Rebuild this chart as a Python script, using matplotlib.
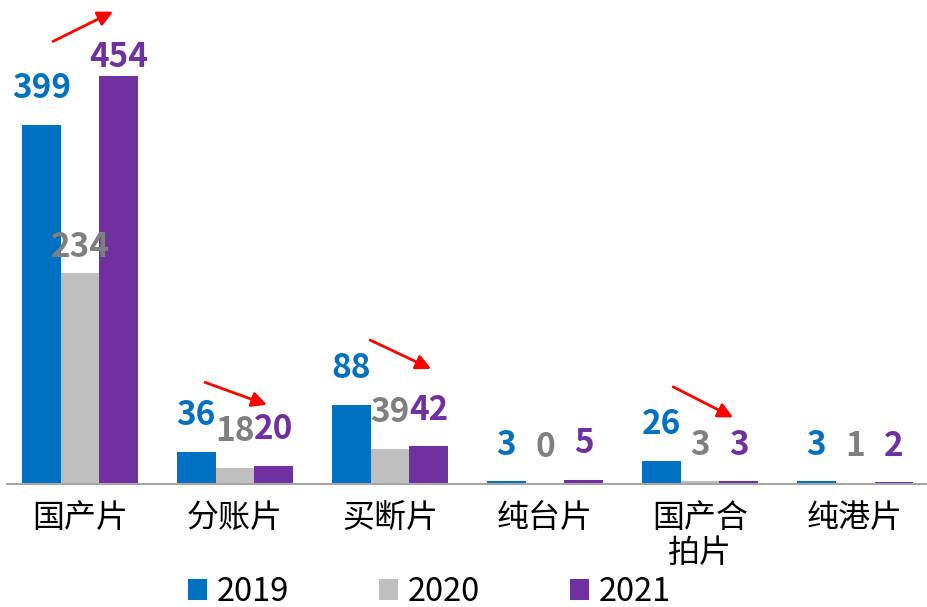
import matplotlib
matplotlib.use("Agg")
import matplotlib.pyplot as plt
import numpy as np

plt.rcParams['font.family'] = ['Noto Sans CJK SC', 'DejaVu Sans']

categories = ['国产片', '分账片', '买断片', '纯台片', '国产合\n拍片', '纯港片']
series_names = ['2019', '2020', '2021']
v2019 = [399, 36, 88, 3, 26, 3]
v2020 = [234, 18, 39, 0, 3, 1]
v2021 = [454, 20, 42, 5, 3, 2]

bar_colors = ['#0070C0', '#BFBFBF', '#7030A0']
label_colors = ['#0070C0', '#7F7F7F', '#7030A0']

fig = plt.figure(figsize=(9.28, 6.07), dpi=100)
ax = fig.add_axes([7 / 928, (607 - 484) / 607, 1 - 7 / 928, 484 / 607])

x = np.arange(len(categories))
w = 0.25
offsets = [-w, 0, w]
all_vals = [v2019, v2020, v2021]

for i, (vals, name) in enumerate(zip(all_vals, series_names)):
    bars = ax.bar(x + offsets[i], vals, width=w, color=bar_colors[i], label=name, zorder=2)
    for j, b in enumerate(bars):
        v = vals[j]
        off = 26
        if v == 454:
            off = 13
        elif v == 234:
            off = 19
        ax.annotate(str(v), (b.get_x() + b.get_width() / 2, v),
                    xytext=(0, off), textcoords='offset points',
                    ha='center', va='center', fontsize=24, fontweight='bold',
                    color=label_colors[i])

ax.set_xlim(-0.471, 5.47)
ax.set_ylim(0, 538)
ax.set_xticks(x)
ax.set_xticklabels(categories, fontsize=23, linespacing=1.1)
ax.tick_params(axis='x', length=0, pad=13)
ax.set_yticks([])
for s in ['top', 'right', 'left']:
    ax.spines[s].set_visible(False)
ax.spines['bottom'].set_color('#A6A6A6')
ax.spines['bottom'].set_linewidth(1.5)

# red trend arrows (category index, value coordinates)
arrows = [((-0.174, 492), (0.213, 525)),
          ((0.806, 113), (1.206, 88)),
          ((1.871, 160), (2.265, 128)),
          ((3.826, 108), (4.213, 74))]
for (tx, ty), (hx, hy) in arrows:
    ax.annotate('', xy=(hx, hy), xytext=(tx, ty),
                arrowprops=dict(arrowstyle='-|>,head_length=0.9,head_width=0.45',
                                color='#FF0000', lw=2, shrinkA=0, shrinkB=0),
                annotation_clip=False)

leg = fig.legend(loc='center', bbox_to_anchor=(0.463, (607 - 592) / 607),
                 ncol=3, frameon=False, fontsize=23.5, handlelength=0.58, handleheight=0.58,
                 handletextpad=0.3, columnspacing=2.75, borderaxespad=0, borderpad=0)

fig.savefig('out.png', dpi=100)
